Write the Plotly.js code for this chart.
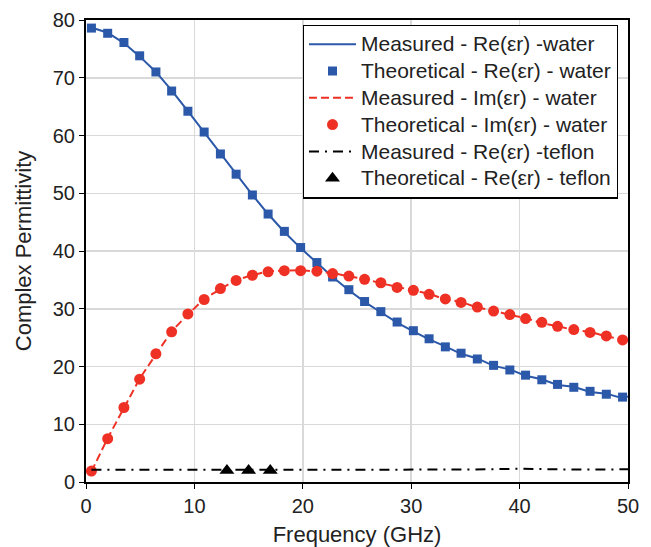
<!DOCTYPE html>
<html>
<head>
<meta charset="utf-8">
<script src="https://cdn.plot.ly/plotly-3.0.1.min.js"></script>
<style>html,body{margin:0;padding:0;background:#fff}#chart{width:651px;height:547px}</style>
</head>
<body>
<div id="chart"></div>
<script>
// Frequencies (GHz) of the theoretical points
const freqTheo = [0.5, 2.0, 3.5, 4.95, 6.45, 7.9, 9.4, 10.9, 12.4, 13.85, 15.35, 16.8, 18.3, 19.8, 21.3, 22.75, 24.25, 25.7, 27.2, 28.7, 30.2, 31.65, 33.15, 34.6, 36.1, 37.6, 39.1, 40.55, 42.05, 43.5, 45.0, 46.5, 48.0, 49.5];
const theoReWater = [78.6, 77.7, 76.1, 73.8, 71.0, 67.7, 64.2, 60.6, 56.8, 53.3, 49.7, 46.4, 43.4, 40.6, 38.0, 35.5, 33.3, 31.25, 29.5, 27.7, 26.2, 24.8, 23.4, 22.3, 21.3, 20.2, 19.4, 18.5, 17.7, 16.9, 16.4, 15.7, 15.2, 14.7];
const theoImWater = [1.9, 7.5, 12.9, 17.8, 22.2, 26.0, 29.1, 31.6, 33.5, 34.9, 35.8, 36.4, 36.6, 36.6, 36.5, 36.1, 35.65, 35.1, 34.5, 33.7, 33.2, 32.5, 31.7, 31.1, 30.3, 29.6, 29.0, 28.3, 27.65, 26.95, 26.4, 25.9, 25.3, 24.6];

// Measured curves
const freqMeas = [0.5, 2.0, 3.5, 4.95, 6.45, 7.9, 9.4, 10.9, 12.4, 13.85, 15.35, 16.8, 18.3, 19.8, 21.3, 22.75, 24.25, 25.7, 27.2, 28.7, 30.2, 31.65, 33.15, 34.6, 36.1, 37.6, 39.1, 40.55, 42.05, 43.5, 45.0, 46.5, 48.0, 49.5, 50.0];
const measReWater = [78.7, 77.8, 76.0, 73.7, 71.0, 67.8, 64.2, 60.5, 56.8, 53.2, 49.7, 46.4, 43.3, 40.5, 37.9, 35.5, 33.2, 31.2, 29.4, 27.6, 26.1, 24.7, 23.5, 22.2, 21.4, 20.1, 19.5, 18.4, 17.8, 16.8, 16.5, 15.6, 15.3, 14.5, 14.8];
const measImWater = [1.8, 7.6, 12.8, 17.9, 22.1, 26.1, 29.0, 31.7, 33.4, 35.0, 35.8, 36.5, 36.6, 36.7, 36.4, 36.2, 35.6, 35.2, 34.4, 33.8, 33.1, 32.6, 31.6, 31.2, 30.2, 29.7, 28.9, 28.4, 27.5, 27.0, 26.3, 26.0, 25.2, 24.7, 24.8];
const freqTeflon = [0.5, 5, 10, 15, 20, 25, 30, 35, 40, 45, 50];
const measReTeflon = [2.1, 2.1, 2.05, 2.05, 2.1, 2.05, 2.1, 2.15, 2.3, 2.15, 2.2];
const freqTeflonTheo = [13, 15, 17];
const theoReTeflon = [2.0, 2.0, 2.0];

const names = [
  'Measured - Re(\u03b5r) -water',
  'Theoretical - Re(\u03b5r) - water',
  'Measured - Im(\u03b5r) - water',
  'Theoretical - Im(\u03b5r) - water',
  'Measured - Re(\u03b5r) -teflon',
  'Theoretical - Re(\u03b5r) - teflon'
];
// legend text drawn slightly larger than the row spacing implies (tight Excel-style legend)
const lg = s => '<span style="font-size:21px">' + s + '</span>';

const blue = '#2B58A8';
const red = '#EE3124';

const traces = [
  {x: freqMeas, y: measReWater, mode: 'lines', name: lg(names[0]), line: {color: blue, width: 2}},
  {x: freqTheo, y: theoReWater, mode: 'markers', name: lg(names[1]), marker: {symbol: 'square', color: blue, size: 9}},
  {x: freqMeas, y: measImWater, mode: 'lines', name: lg(names[2]), line: {color: red, width: 2, dash: '8px,4px'}},
  {x: freqTheo, y: theoImWater, mode: 'markers', name: lg(names[3]), marker: {symbol: 'circle', color: red, size: 11}},
  {x: freqTeflon, y: measReTeflon, mode: 'lines', name: lg(names[4]), line: {color: '#000', width: 2, dash: '10px,6px,2px,6px'}},
  {x: freqTeflonTheo, y: theoReTeflon, mode: 'markers', name: lg(names[5]), marker: {symbol: 'triangle-up', color: '#000', size: 13}}
];

const layout = {
  width: 651, height: 547,
  margin: {l: 86, r: 23, t: 20, b: 65},
  paper_bgcolor: '#fff', plot_bgcolor: '#fff',
  font: {family: 'Liberation Sans, Arial, sans-serif', size: 20, color: '#222'},
  showlegend: true,
  legend: {
    x: 0.4, y: 0.99, xanchor: 'left', yanchor: 'top',
    bgcolor: '#fff', bordercolor: '#000', borderwidth: 1.2,
    font: {size: 18.3, color: '#222'}, tracegroupgap: 0, itemwidth: 47
  },
  xaxis: {
    range: [0, 50], dtick: 10, tick0: 0,
    showgrid: true, gridcolor: '#d9d9d9', gridwidth: 1.5,
    showline: true, linecolor: '#000', linewidth: 2, mirror: true,
    ticks: 'outside', ticklen: 5, tickcolor: '#000',
    zeroline: false,
    title: {text: 'Frequency (GHz)', font: {size: 22}, standoff: 12}
  },
  yaxis: {
    range: [0, 80], dtick: 10, tick0: 0,
    showgrid: true, gridcolor: '#d9d9d9', gridwidth: 1.5,
    showline: true, linecolor: '#000', linewidth: 2, mirror: true,
    ticks: 'outside', ticklen: 5, tickcolor: '#000',
    zeroline: false,
    title: {text: 'Complex Permittivity', font: {size: 22}, standoff: 15}
  }
};

Plotly.newPlot('chart', traces, layout, {displayModeBar: false, staticPlot: true});
</script>
</body>
</html>
